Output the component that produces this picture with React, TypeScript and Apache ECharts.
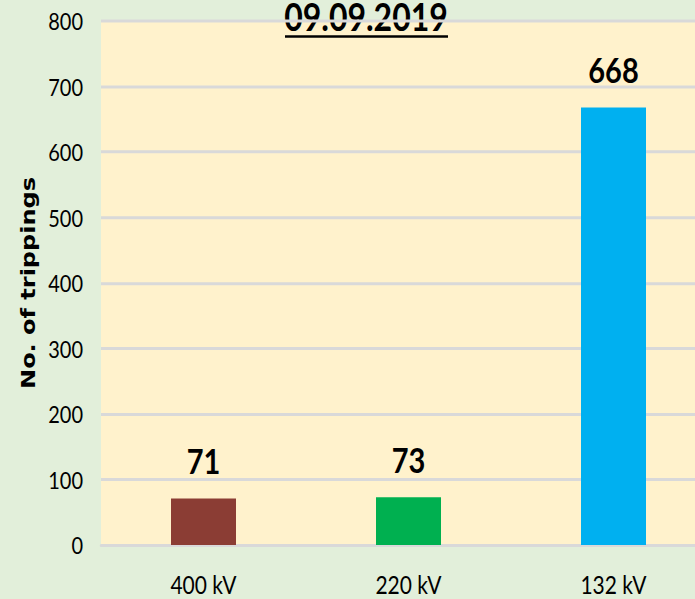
import React, { useEffect, useRef } from "react";
import * as echarts from "echarts";

const categories = ["400 kV", "220 kV", "132 kV"];
const trippings = [71, 73, 668];
const barColors = ["#8B3D34", "#00B050", "#00B0F0"];
const yTicks = [0, 100, 200, 300, 400, 500, 600, 700, 800];
const titleText = "09.09.2019";
const yAxisTitle = "No. of trippings";

// The reference is a vertically stretched picture; the chart is drawn at a
// smaller height and stretched by the same factor.
const STRETCH = 1.2;
const W = 695;
const H = 599 / STRETCH;
const FONT = "Lato, 'Open Sans', sans-serif";

export default function App() {
  const ref = useRef<HTMLDivElement>(null);
  useEffect(() => {
    if (!ref.current) return;
    const chart = echarts.init(ref.current, null, { renderer: "svg" });
    const top = 21 / STRETCH;
    const bottom = 545 / STRETCH;
    chart.setOption({
      animation: false,
      backgroundColor: "#E2EFDA",
      grid: {
        left: 101,
        top,
        width: 615,
        height: bottom - top,
        show: true,
        backgroundColor: "#FFF2CC",
        borderWidth: 0,
        outerBoundsMode: "none",
        containLabel: false,
      },
      graphic: [
        {
          type: "text",
          x: 366,
          y: 14,
          style: {
            text: titleText,
            fontFamily: FONT,
            fontWeight: "bold",
            fontSize: 32,
            fill: "#000",
            align: "center",
            verticalAlign: "middle",
          },
        },
        {
          type: "rect",
          shape: { x: 285, y: 29.4, width: 163, height: 2 },
          style: { fill: "#000" },
        },
      ],
      xAxis: {
        type: "category",
        data: categories,
        axisTick: { show: false },
        axisLine: { show: true, lineStyle: { color: "#D9D9D9", width: 2.5 } },
        axisLabel: {
          margin: 22.5,
          fontFamily: FONT,
          fontSize: 21,
          color: "#000",
        },
      },
      yAxis: {
        type: "value",
        min: yTicks[0],
        max: yTicks[yTicks.length - 1],
        interval: yTicks[1] - yTicks[0],
        name: yAxisTitle,
        nameLocation: "middle",
        nameGap: 56,
        nameRotate: 90,
        nameTextStyle: {
          fontFamily: "'DejaVu Sans', Verdana, sans-serif",
          fontWeight: "bold",
          fontSize: 20,
          color: "#000",
        },
        axisLine: { show: false },
        axisTick: { show: false },
        axisLabel: {
          margin: 18,
          fontFamily: FONT,
          fontSize: 20,
          color: "#000",
        },
        splitLine: { lineStyle: { color: "#D9D9D9", width: 2.5 } },
      },
      series: [
        {
          type: "bar",
          barWidth: 65,
          data: trippings.map((v, i) => ({ value: v, itemStyle: { color: barColors[i] } })),
          label: {
            show: true,
            position: "top",
            distance: 17,
            fontFamily: FONT,
            fontWeight: "bold",
            fontSize: 29,
            color: "#000",
          },
        },
      ],
    });
    return () => chart.dispose();
  }, []);
  return (
    <div
      style={{
        position: "fixed",
        left: 0,
        top: 0,
        width: W,
        height: 599,
        overflow: "hidden",
        background: "#E2EFDA",
      }}
    >
      <div
        ref={ref}
        style={{
          width: W,
          height: H,
          transform: `scaleY(${STRETCH})`,
          transformOrigin: "0 0",
        }}
      />
    </div>
  );
}
